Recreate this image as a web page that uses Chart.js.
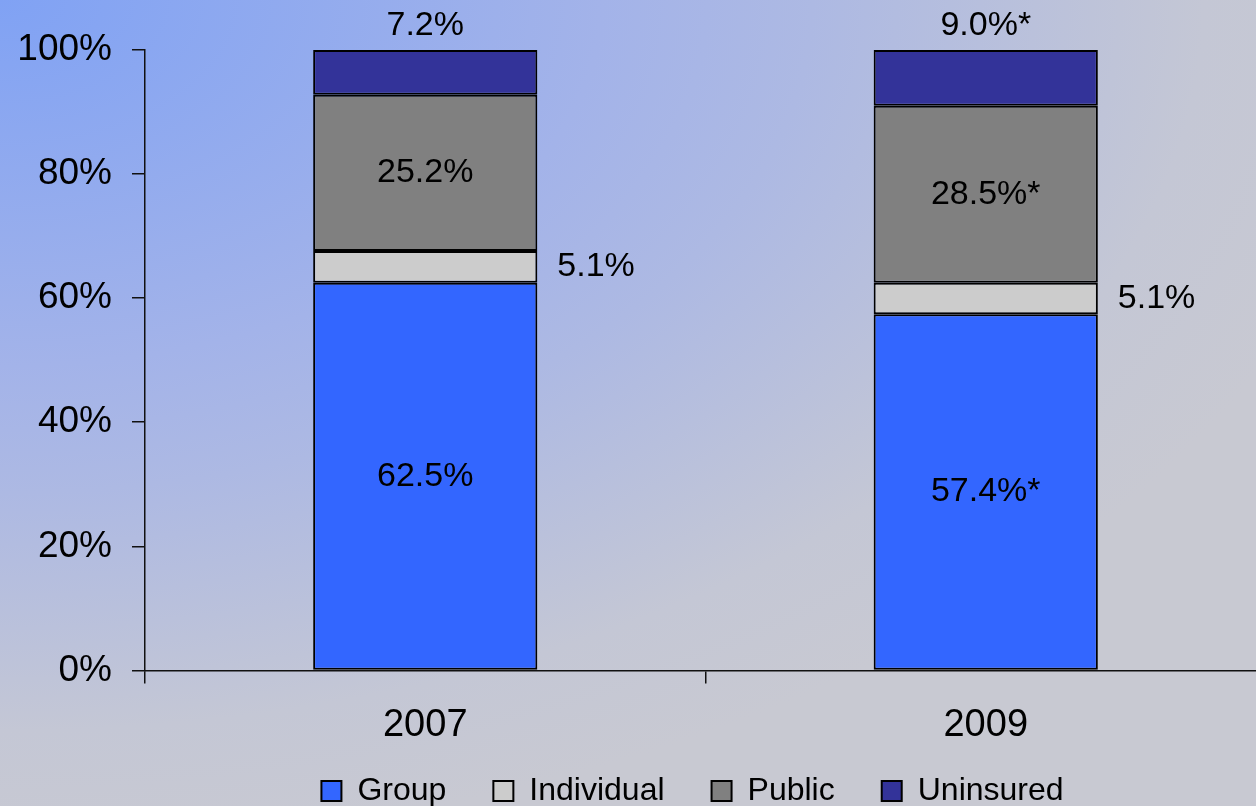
<!DOCTYPE html>
<html>
<head>
<meta charset="utf-8">
<script src="https://cdn.jsdelivr.net/npm/chart.js@4/dist/chart.umd.min.js"></script>
<style>
  html, body { margin: 0; padding: 0; overflow: hidden; }
  body {
    width: 1256px; height: 806px;
    background: radial-gradient(ellipse 1400px 850px at 0 0, #80a2f4 0%, #a3b3e9 43%, #adb9e3 58%, #c4c7d5 86%, #c8c9d2 100%);
  }
  .wrap { position: absolute; left: 0; top: 0; width: 1266px; height: 806px; }
</style>
</head>
<body>
<div class="wrap"><canvas id="myChart"></canvas></div>
<script>
// data
const years = ['2007', '2009'];
const groupVals = [62.5, 57.4];
const individualVals = [5.1, 5.1];
const publicVals = [25.2, 28.5];
const uninsuredVals = [7.2, 9.0];
// "*" marks on the 2009 labels
const groupNotes = ['', '*'];
const individualNotes = ['', ''];
const publicNotes = ['', '*'];
const uninsuredNotes = ['', '*'];
const yTicks = [0, 20, 40, 60, 80, 100];

const FONT = "'Liberation Sans', Arial, sans-serif";

function mkSet(label, vals, notes, color, where){
  return {
    label: label,
    data: vals,
    notes: notes,
    where: where,
    backgroundColor: color,
    borderColor: '#000',
    borderWidth: 2,
    borderSkipped: false,
    barPercentage: 0.4,
    categoryPercentage: 1.0
  };
}

// draws the value labels next to / inside each bar piece
const valueLabels = {
  id: 'valueLabels',
  afterLayout(chart){
    // legend sits a bit left of the plot centre and closer to the axis labels in the original
    const lg = chart.legend;
    lg.left -= 13;
    lg.right -= 13;
    lg.top -= 39;
    lg.bottom -= 39;
  },
  afterDatasetsDraw(chart){
    const ctx = chart.ctx;
    ctx.save();
    ctx.font = '34px ' + FONT;
    ctx.fillStyle = '#000';
    ctx.textBaseline = 'middle';
    chart.data.datasets.forEach((ds, i) => {
      const meta = chart.getDatasetMeta(i);
      meta.data.forEach((bar, j) => {
        const txt = ds.data[j].toFixed(1) + '%' + ds.notes[j];
        const mid = (bar.y + bar.base) / 2;
        if(ds.where == 'right'){
          ctx.textAlign = 'left';
          ctx.fillText(txt, bar.x + bar.width / 2 + 20, mid);
        } else if(ds.where == 'top'){
          ctx.textAlign = 'center';
          ctx.fillText(txt, bar.x, bar.y - 24);
        } else {
          ctx.textAlign = 'center';
          ctx.fillText(txt, bar.x, mid);
        }
      });
    });
    ctx.restore();
  }
};

const config = {
  type: 'bar',
  data: {
    labels: years,
    datasets: [
      mkSet('Group', groupVals, groupNotes, '#3366ff', 'center'),
      mkSet('Individual', individualVals, individualNotes, '#cccccc', 'right'),
      mkSet('Public', publicVals, publicNotes, '#808080', 'center'),
      mkSet('Uninsured', uninsuredVals, uninsuredNotes, '#333399', 'top')
    ]
  },
  options: {
    responsive: true,
    maintainAspectRatio: false,
    animation: false,
    layout: { padding: { top: 50, left: 0, right: 0, bottom: -50 } },
    plugins: {
      tooltip: { enabled: false },
      legend: {
        position: 'bottom',
        fullSize: false,
        labels: {
          color: '#000',
          font: { family: FONT, size: 32 },
          boxWidth: 20,
          boxHeight: 20,
          padding: 47
        }
      }
    },
    scales: {
      x: {
        stacked: true,
        grid: { display: true, offset: true, drawOnChartArea: false, drawTicks: true, tickLength: 13, color: '#111', lineWidth: 1.5 },
        border: { display: true, color: '#111', width: 1.5 },
        ticks: { color: '#000', font: { family: FONT, size: 38 }, padding: 19 }
      },
      y: {
        stacked: true,
        min: 0,
        max: 100,
        afterBuildTicks: s => { s.ticks = yTicks.map(v => ({ value: v })); },
        afterFit: s => { s.width = 145; },
        grid: { display: true, drawOnChartArea: false, drawTicks: true, tickLength: 13, color: '#111', lineWidth: 1.5 },
        border: { display: true, color: '#111', width: 1.5 },
        ticks: { color: '#000', font: { family: FONT, size: 37 }, padding: 20, callback: v => v + '%' }
      }
    }
  },
  plugins: [valueLabels]
};

new Chart(document.getElementById('myChart'), config);
</script>
</body>
</html>
